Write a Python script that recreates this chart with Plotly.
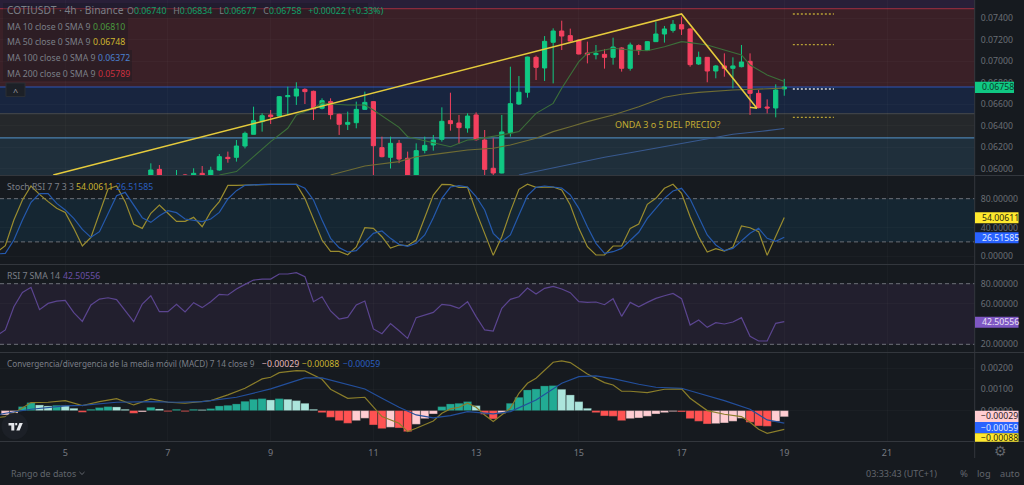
import plotly.graph_objects as go

W, H = 1024, 485
FONT = "Noto Sans"

# ---------- data ----------
candle_start = 17
candle_open = [.0590,.05992,.0588,.0587,.0594,.0590,.05955,.05936,.05986,.06104,.06104,.06209,.06318,.06436,.06498,.06488,.06668,.06674,.06736,.06718,.06560,.06622,.06504,.06411,.06426,.06550,.06622,.06194,.06104,.06234,.06095,.0590,.06169,.06219,.06271,.06445,.06423,.06377,.06498,.06265,.06002,.05958,.06333,.06600,.06709,.07034,.06935,.07174,.07279,.07236,.07195,.07074,.07059,.07062,.07034,.07121,.06932,.07143,.07099,.07180,.07251,.07285,.07338,.07298,.06972,.07034,.06907,.06954,.06932,.06947,.06997,.06699,.06572,.06563,.06740]
candle_high = [.06048,.06032,.0592,.05986,.05949,.06002,.06023,.06017,.06135,.06157,.06265,.06343,.06575,.06513,.06544,.06674,.06761,.06802,.06746,.06724,.06653,.06653,.06510,.06529,.06622,.06715,.06625,.06296,.06296,.06265,.06157,.06234,.06296,.06312,.06569,.06705,.06498,.06513,.06522,.06358,.06281,.06498,.06947,.06860,.07040,.07050,.07232,.07304,.07375,.07301,.07202,.07180,.07149,.07112,.07217,.07127,.07171,.07155,.07183,.07366,.07326,.07381,.07412,.07304,.07087,.07037,.06963,.07071,.07034,.07149,.07071,.06730,.06643,.06783,.06834]
candle_low = [.0588,.0587,.0584,.0585,.0588,.0588,.0588,.0590,.05980,.06054,.06064,.06187,.06318,.06343,.06414,.06485,.06498,.06591,.06600,.06451,.06550,.06457,.06312,.06358,.06374,.06544,.0590,.06104,.0600,.0605,.0585,.0585,.06141,.06166,.06250,.06352,.06228,.06333,.06259,.0592,.0590,.05955,.06296,.06591,.06659,.06823,.06814,.06792,.07102,.07180,.07062,.06978,.07015,.06929,.06966,.06901,.06910,.07056,.07096,.07180,.07171,.07264,.07242,.06947,.06963,.06802,.06839,.06854,.06746,.06941,.06498,.06560,.06513,.06476,.06677]
candle_close = [.05986,.0590,.0590,.0591,.0590,.05955,.0590,.05983,.06110,.06092,.06209,.06327,.06445,.06491,.06482,.06668,.06678,.06740,.06715,.06554,.06631,.06501,.06411,.06429,.06550,.06615,.06212,.06110,.06234,.06088,.0590,.06166,.06215,.06265,.06439,.06417,.06380,.06488,.06268,.05992,.05958,.06340,.06603,.06709,.07037,.06941,.07183,.07279,.07232,.07186,.07065,.07059,.07071,.07034,.07130,.06932,.07149,.07096,.07180,.07251,.07298,.07341,.07298,.06966,.07034,.06907,.06954,.06932,.06954,.06991,.06699,.06566,.06563,.06730,.06758]

ma10_x = [25,27,29,31,33,34,36,37,38,40,42,43,46,47,50,52,54,55,59,60,62,64,65,67,68,70,71,73,75,77,79,80,82,84,86,87,89,91]
ma10_y = [.05940,.05971,.06110,.06250,.06374,.06498,.06560,.06612,.06600,.06591,.06591,.06544,.06383,.06296,.06240,.06203,.06265,.06271,.06327,.06343,.06513,.06606,.06746,.06994,.07071,.07102,.07118,.07102,.07096,.07133,.07180,.07171,.07149,.07102,.07056,.06963,.06870,.06810]
ma50_x = [38,42,46,48,51,54,57,59,62,64,66,68,71,74,77,79,81,85,91]
ma50_y = [.05940,.06023,.06064,.06110,.06141,.06172,.06188,.06219,.06281,.06343,.06389,.06436,.06498,.06575,.06662,.06690,.06708,.06730,.06748]
ma100_x = [60,66,70,73,77,81,85,89,91]
ma100_y = [.05940,.06042,.06104,.06147,.06203,.06265,.06318,.06352,.06372]

trend_x = [5.6,79,87.8,87]
trend_y = [.0594,.07437,.0656,.0657]

fib_levels = [.07488,.06758,.06510,.06284]
target_levels = [.07437,.07152,.06476]
current_level = .06739
target_x = [92,96.8]

stoch_start = -1
stoch_k = [5.5,14.7,50.4,78.2,97.6,86.0,75.9,66.6,61.0,38.8,14.3,26.3,59.7,93.5,97.6,75.9,44.4,38.8,59.7,71.2,59.7,48.5,48.5,54.1,41.1,62.0,75.9,98.5,98.5,99.0,100,100,100,100,100,100,80.5,52.7,22.6,6.9,6.9,2.2,12.9,39.7,38.8,27.2,11.5,15.7,14.7,22.6,52.7,85.1,100,99.5,95.8,95.8,62.0,31.9,1.3,27.2,62.0,93.0,100,95.8,95.8,96.2,92.1,71.2,38.8,13.4,1.8,1.8,14.3,14.3,38.8,44.8,72.2,80.5,94.4,100,87.4,55.0,27.2,6.0,10.6,7.3,12.9,42.1,39.7,34.2,1.3,27.2,54.00611]
stoch_d = [3.2,4.1,22.6,50.4,74.9,87.0,87.0,73.5,64.3,52.7,37.4,26.3,34.2,59.7,84.2,88.8,71.2,53.6,47.1,56.4,63.4,60.6,51.8,49.5,48.1,51.8,61.0,79.6,91.1,98.5,99.5,100,100,100,100,100,94.4,78.2,50.4,24.9,12.0,6.0,7.8,20.3,31.9,35.1,24.9,16.6,13.8,18.0,29.6,53.6,80.5,96.2,98.1,96.2,82.8,64.3,31.9,20.3,29.6,57.3,84.2,95.8,97.6,96.2,94.8,85.1,66.6,41.1,18.0,4.1,6.4,11.0,22.6,33.3,52.7,66.6,80.5,90.7,94.4,79.6,55.0,29.6,15.7,7.8,11.0,21.2,31.9,38.8,24.9,20.8,26.51585]
rsi_values = [28.6,34.2,57.2,71.4,76.4,54.3,60.5,62.8,63.5,51.3,42.7,58.9,64.8,66.1,64.2,53.0,42.4,59.9,68.1,52.3,52.3,59.6,52.0,61.2,56.3,62.2,69.4,68.8,74.7,79.3,83.6,84.6,84.6,89.6,89.6,90.9,87.0,62.2,67.1,53.0,45.0,46.7,58.9,62.8,35.2,30.5,40.5,33.5,25.9,46.4,49.0,51.6,59.6,58.6,55.6,62.2,47.4,34.2,33.2,55.6,64.5,67.1,75.7,69.8,75.4,77.4,74.7,71.1,62.2,61.5,61.9,59.2,65.2,47.7,61.5,57.2,61.5,65.5,68.1,70.4,65.2,39.1,44.1,36.8,41.4,40.1,42.1,46.4,27.9,23.3,23.3,40.8,42.50556]

hist_values = [-.000203,-.000125,.000188,.000376,.000266,.000219,.000250,.000235,.000110,-.000078,.000063,.000141,.000188,.000172,.000063,-.000125,-.000063,.000157,.000078,-.000047,.000063,-.000047,.000063,.000047,.000094,.000219,.000250,.000313,.000438,.000532,.000563,.000501,.000563,.000532,.000470,.000344,.000063,-.000094,-.000313,-.000470,-.000595,-.000470,-.000360,-.000673,-.000845,-.000783,-.000814,-.000986,-.000642,-.000376,-.000157,.000188,.000313,.000344,.000423,.000235,-.000172,-.000391,-.000125,.000344,.000626,.000970,.001017,.001158,.001174,.001002,.000736,.000423,.000110,-.000094,-.000250,-.000266,-.000470,-.000376,-.000344,-.000266,-.000157,-.000094,-.000047,-.000063,-.000376,-.000501,-.000626,-.000610,-.000579,-.000501,-.000360,-.000548,-.000720,-.000736,-.000501,-.00029]
macd_x = [-1,0,1,3,5,7,9,11,13,15,17,19,21,24,26,28,30,31,32,34,35,37,38,40,42,44,46,47,48,50,51,52,53,54,55,56,57,59,60,61,62,64,65,66,68,70,71,72,73,75,77,79,80,82,84,86,87,88,89,91]
macd_y = [-.000329,-.000282,-.000125,.000376,.000391,.000470,.000235,.000423,.000563,.000266,.000548,.000391,.000344,.000470,.000736,.001049,.001487,.001565,.001784,.001878,.001862,.001471,.001002,.000579,.000626,-.000282,-.000595,-.000986,-.000829,-.000485,-.000125,.000078,.000157,.000344,.000157,-.000203,-.000516,.000110,.000814,.001283,.001518,.002269,.002332,.002254,.001722,.001315,.001205,.000908,.000908,.000845,.001002,.001017,.000579,0,-.000172,-.000282,-.000548,-.000876,-.001064,-.00088]
signal_x = [-1,0,3,7,9,13,17,20,23,27,31,34,35,37,39,42,44,46,48,50,52,54,57,59,62,65,67,69,71,74,76,79,81,84,87,89,91]
signal_y = [-.000203,-.000125,.000063,.000219,.000250,.000391,.000423,.000391,.000423,.000626,.001017,.001409,.001534,.001534,.00133,.001017,.000579,.000157,-.000203,-.000344,-.000235,-.000047,-.000157,-.000047,.000501,.001283,.001596,.001628,.001502,.001236,.001096,.001049,.000814,.000470,.000063,-.000438,-.00059]

day_ticks = [7,19,31,43,55,67,79,91,103]
day_labels = ["5","7","9","11","13","15","17","19","21"]

# ---------- style ----------
BG = "#161A1F"
GRID = "rgba(255,255,255,0.022)"
SEP = "#33373d"
TICK = "#6a6e75"
X_RANGE = [-0.62, 113.28]
UP, DOWN = "#10C883", "#F4405F"
FIB_LINES = ["#8a2b3c", "#2a55b8", "#3e4247", "#4a80b0"]
FIB_FILLS = ["#3a2027", "#18253f", "#25282b", "#1f2f3b"]
TOP_FILL = "#291f38"
MAIN_RANGE = [0.059395, 0.075674]
LEG_SIZE = 8.7


def px(x):
    return x / W


def py(y):
    return 1 - y / H


def dom(top, bottom):
    return [1 - bottom / H, 1 - top / H]


fig = go.Figure()

fig.add_trace(go.Candlestick(
    x=list(range(candle_start, candle_start + len(candle_open))),
    open=candle_open, high=candle_high, low=candle_low, close=candle_close,
    increasing=dict(line=dict(color=UP, width=1), fillcolor=UP),
    decreasing=dict(line=dict(color=DOWN, width=1), fillcolor=DOWN),
    xaxis="x", yaxis="y", showlegend=False))

for xs, ys, c, w in [(ma10_x, ma10_y, "#3b6e39", 1.1), (ma50_x, ma50_y, "#6f6c33", 1.1),
                     (ma100_x, ma100_y, "#38598f", 1.1), (trend_x, trend_y, "#E5CB3C", 1.6)]:
    fig.add_trace(go.Scatter(x=xs, y=ys, mode="lines", line=dict(color=c, width=w),
                             xaxis="x", yaxis="y", showlegend=False))

for lvl in target_levels:
    fig.add_trace(go.Scatter(x=target_x, y=[lvl, lvl], mode="lines",
                             line=dict(color="#b7a035", width=1.4, dash="2px,2px"),
                             xaxis="x", yaxis="y", showlegend=False))
fig.add_trace(go.Scatter(x=target_x, y=[current_level, current_level], mode="lines",
                         line=dict(color="#d8dbe2", width=1.4, dash="2px,2px"),
                         xaxis="x", yaxis="y", showlegend=False))

stoch_x = list(range(stoch_start, stoch_start + len(stoch_k)))
fig.add_trace(go.Scatter(x=stoch_x, y=stoch_k, mode="lines", line=dict(color="#9a8c2f", width=1.2),
                         xaxis="x2", yaxis="y2", showlegend=False))
fig.add_trace(go.Scatter(x=stoch_x, y=stoch_d, mode="lines", line=dict(color="#2559ad", width=1.2),
                         xaxis="x2", yaxis="y2", showlegend=False))
fig.add_trace(go.Scatter(x=list(range(-1, -1 + len(rsi_values))), y=rsi_values, mode="lines",
                         line=dict(color="#5b4590", width=1.2), xaxis="x3", yaxis="y3", showlegend=False))

hist_colors = []
for k, v in enumerate(hist_values):
    prev = hist_values[k - 1] if k else v - 1
    if v >= 0:
        hist_colors.append("#22AB94" if v > prev else "#ACE5DC")
    else:
        hist_colors.append("#FFCDD2" if v > prev else "#FF5252")
fig.add_trace(go.Bar(x=list(range(len(hist_values))), y=hist_values, width=0.96,
                     marker=dict(color=hist_colors, line=dict(color="rgba(40,50,50,0.6)", width=0.5)),
                     xaxis="x4", yaxis="y4", showlegend=False))
fig.add_trace(go.Scatter(x=macd_x, y=macd_y, mode="lines", line=dict(color="#8a7d2a", width=1.2),
                         xaxis="x4", yaxis="y4", showlegend=False))
fig.add_trace(go.Scatter(x=signal_x, y=signal_y, mode="lines", line=dict(color="#234f9c", width=1.2),
                         xaxis="x4", yaxis="y4", showlegend=False))

shapes = []


def band(yref, y0, y1, color):
    shapes.append(dict(type="rect", xref="x domain", yref=yref, x0=0, x1=1, y0=y0, y1=y1,
                       fillcolor=color, line_width=0, layer="below"))


def level(yref, y, color, width=1.2, dash="solid"):
    shapes.append(dict(type="line", xref="x domain", yref=yref, x0=0, x1=1, y0=y, y1=y,
                       line=dict(color=color, width=width, dash=dash), layer="below"))


band("y", fib_levels[0], MAIN_RANGE[1], TOP_FILL)
for a, b, c in zip(fib_levels[:-1], fib_levels[1:], FIB_FILLS[:3]):
    band("y", b, a, c)
band("y", MAIN_RANGE[0], fib_levels[3], FIB_FILLS[3])
for lvl, c in zip(fib_levels, FIB_LINES):
    level("y", lvl, c)

band("y2", 20, 80, "#152632")
band("y3", 20, 80, "#221F2E")
for yref in ("y2", "y3"):
    for v in (20, 80):
        level(yref, v, "#6b6e76", 1, "4px,3px")


def rect_px(x0, y0, x1, y1, fill, line=None, layer="above"):
    shapes.append(dict(type="rect", xref="paper", yref="paper", x0=px(x0), x1=px(x1),
                       y0=py(y0), y1=py(y1), fillcolor=fill,
                       line=dict(width=1 if line else 0, color=line or fill), layer=layer))


def line_px(x0, y0, x1, y1, color, width=1):
    shapes.append(dict(type="line", xref="paper", yref="paper", x0=px(x0), x1=px(x1),
                       y0=py(y0), y1=py(y1), line=dict(color=color, width=width), layer="above"))


def path_px(pts, fill=None, color=None, width=1):
    d = "M " + " L ".join(f"{px(a):.5f},{py(b):.5f}" for a, b in pts)
    if fill:
        d += " Z"
    shapes.append(dict(type="path", xref="paper", yref="paper", path=d, fillcolor=fill,
                       line=dict(color=color or fill, width=width if color else 0), layer="above"))


# pane separators / axis rule
for y in (175.5, 264.5, 352.5, 441.5):
    line_px(0, y, W, y, SEP, 1.2)
line_px(974.7, 0, 974.7, 458, SEP, 1)

# legend backgrounds
LEG = "rgba(20,24,30,0.33)"
rect_px(3, 3, 368, 18, LEG)
rect_px(3, 18, 128, 50, LEG)
rect_px(3, 50, 132, 81, LEG)
rect_px(6, 83, 25, 96.5, "#1c2027", "#2a2e34")

# TV logo
shapes.append(dict(type="circle", xref="paper", yref="paper", x0=px(1.5), x1=px(28), y0=py(439.5),
                   y1=py(413), fillcolor="#1c2027", line_width=0, layer="above"))
path_px([(8.5, 423), (14.3, 423), (14.3, 430.6), (11.3, 430.6), (11.3, 425.4), (8.5, 425.4)], fill="#e6e8ec")
path_px([(15.2, 423), (17.2, 423), (17.2, 425.3), (15.2, 425.3)], fill="#e6e8ec")
path_px([(19.4, 423), (22.8, 423), (19.6, 430.6), (16.3, 430.6)], fill="#e6e8ec")
# footer chevron
path_px([(79.5, 472), (82, 474.5), (84.5, 472)], color="#62666d", width=1)

annotations = []


def text(x, y, s, size=LEG_SIZE, color=TICK, anchor="left", family=FONT):
    annotations.append(dict(xref="paper", yref="paper", x=px(x), y=py(y), text=s, showarrow=False,
                            xanchor=anchor, yanchor="middle", borderpad=0,
                            font=dict(family=family, size=size, color=color)))


def label(y0, y1, s, fill, color, x1=1018.5, ytext=None):
    rect_px(975, y0, x1, y1, fill)
    text(981 if not s.startswith("−") else 980, ytext if ytext else (y0 + y1) / 2, s, 8.7, color)


label(81.7, 93, "0.06758", "#10C883", "#0c3a2a", x1=1014)
label(212.3, 223.3, "54.00611", "#FFE92E", "#2b2a10")
label(232.3, 243.3, "26.51585", "#2962FF", "#dfe7ff")
label(316.7, 327.7, "42.50556", "#7E57C2", "#e8e0f5")
label(410.7, 422, "−0.00029", "#FFCDD2", "#2a2224")
label(422, 433.3, "−0.00059", "#2962FF", "#dfe7ff")
label(433.3, 441.7, "−0.00088", "#FFE92E", "#2b2a10", ytext=438.3)

GL = "#7b7f87"
GV = "#0fa06a"
text(6, 10, f"<span style='color:{GL}'>COTIUSDT · 4h · Binance</span>", 10.3)
text(126, 11, (f"<span style='color:{GL}'>O</span><span style='color:{GV}'>0.06740</span>   "
               f"<span style='color:{GL}'>H</span><span style='color:{GV}'>0.06834</span>   "
               f"<span style='color:{GL}'>L</span><span style='color:{GV}'>0.06677</span>   "
               f"<span style='color:{GL}'>C</span><span style='color:{GV}'>0.06758</span>   "
               f"<span style='color:{GV}'>+0.00022 (+0.33%)</span>"), 8.8)
for y, name, val, c, vx in [(26.5, "MA 10 close 0 SMA 9", "0.06810", "#4a9a3e", 92),
                            (42, "MA 50 close 0 SMA 9", "0.06748", "#cdb52f", 92),
                            (57.5, "MA 100 close 0 SMA 9", "0.06372", "#4a80cf", 97),
                            (73.5, "MA 200 close 0 SMA 9", "0.05789", "#c9303f", 97)]:
    text(6, y, name, 8.7, GL)
    text(vx, y, val, 8.7, c)
text(15.5, 91, "^", 9, "#9a9da3", anchor="center")

text(6, 187, "Stoch RSI 7 7 3 3", 8.7, GL)
text(75, 187, "54.00611", 8.7, "#c9b330")
text(115, 187, "26.51585", 8.7, "#2a5fc0")
text(6, 276, "RSI 7 SMA 14", 8.7, GL)
text(62, 276, "42.50556", 8.7, "#6b50a8")
text(6, 363.5, "Convergencia/divergencia de la media móvil (MACD) 7 14 close 9", 8.2, GL)
text(261, 363.5, "−0.00029", 8.7, "#e3b8bc")
text(301, 363.5, "−0.00088", 8.7, "#c9b330")
text(342, 363.5, "−0.00059", 8.7, "#2a5fc0")

text(667.5, 124.7, "ONDA 3 o 5 DEL PRECIO?", 9, "#c4ad32", anchor="center")
text(10, 473, "Rango de datos", 8.9, "#62666d")
text(865, 473, "03:33:43 (UTC+1)", 9, "#62666d")
text(958.5, 473, "%", 9.5, "#62666d")
text(976, 473, "log", 9.2, "#62666d")
text(999, 473, "auto", 9.2, "#62666d")
text(1000, 450.5, "⚙", 14, "#62666d", anchor="center", family="DejaVu Sans")


def xaxis(domain_labels=False, anchor="y"):
    return dict(domain=[0, 975 / W], range=X_RANGE, anchor=anchor, tickmode="array",
                tickvals=day_ticks, ticktext=day_labels, showticklabels=domain_labels,
                showgrid=True, gridcolor=GRID, gridwidth=1, zeroline=False, showline=False,
                ticks="outside", ticklen=3, tickcolor="rgba(0,0,0,0)",
                rangeslider=dict(visible=False), fixedrange=True,
                tickfont=dict(family=FONT, size=9, color="#777b82"))


def yaxis(top, bottom, rng, vals, fmt, anchor):
    return dict(domain=dom(top, bottom), range=rng, anchor=anchor, side="right", tickmode="array",
                tickvals=vals, tickformat=fmt, showgrid=True, gridcolor=GRID, zeroline=False,
                showline=False, ticks="outside", ticklen=3, tickcolor="rgba(0,0,0,0)", fixedrange=True,
                tickfont=dict(family=FONT, size=8.7, color=TICK))


fig.update_layout(
    width=W, height=H, margin=dict(l=0, r=0, t=0, b=0), autosize=False,
    paper_bgcolor=BG, plot_bgcolor=BG, showlegend=False, barmode="overlay",
    xaxis=xaxis(anchor="y"), xaxis2=xaxis(anchor="y2"), xaxis3=xaxis(anchor="y3"),
    xaxis4=xaxis(True, anchor="y4"),
    yaxis=yaxis(0, 175, MAIN_RANGE, [.074, .072, .070, .068, .066, .064, .062, .060], ".5f", "x"),
    yaxis2=yaxis(176, 264, [-10.7, 111.5], [80, 40, 0], ".5f", "x2"),
    yaxis3=yaxis(265, 352, [12.4, 98.5], [80, 60, 20], ".5f", "x3"),
    yaxis4=yaxis(353, 441, [-.001427, .002704], [.002, .001, 0], ".5f", "x4"),
    shapes=shapes, annotations=annotations)

# x domain refs per pane
for s in fig.layout.shapes:
    if s.xref == "x domain":
        s.xref = {"y": "x domain", "y2": "x2 domain", "y3": "x3 domain", "y4": "x4 domain"}[s.yref]

fig.write_html("out.html", config=dict(displayModeBar=False),
               post_script="document.body.style.margin='0';document.body.style.background='#161A1F';")
